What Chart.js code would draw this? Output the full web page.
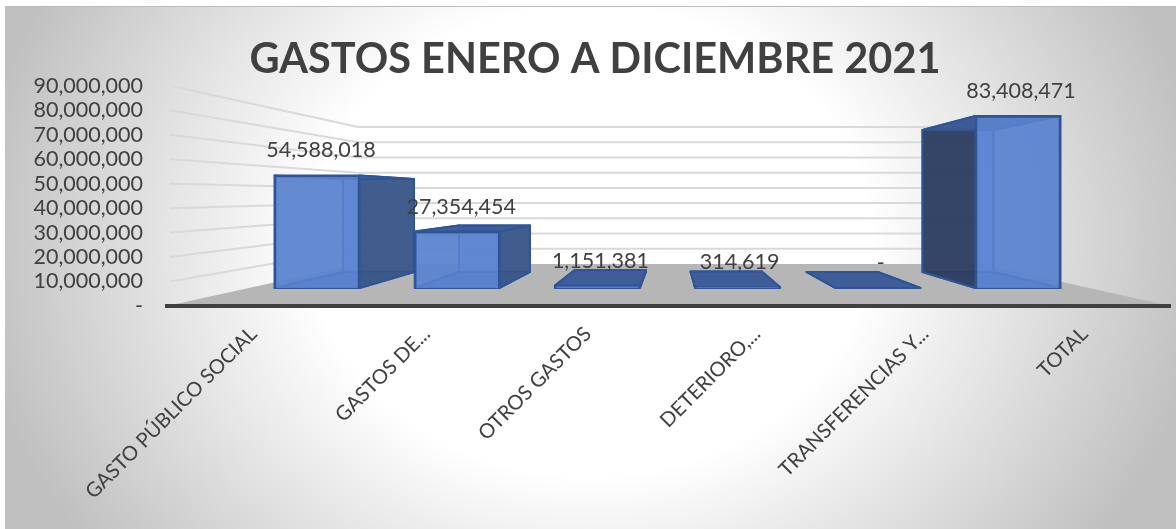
<!DOCTYPE html>
<html>
<head>
<meta charset="utf-8">
<title>Gastos enero a diciembre 2021</title>
<script src="https://cdn.jsdelivr.net/npm/chart.js@4"></script>
<style>
  html, body { margin: 0; padding: 0; background: #fff; }
  #wrap { position: relative; width: 1176px; height: 529px; overflow: hidden; }
  #bg {
    position: absolute; left: 5px; top: 6px; right: 0; bottom: 0;
    border-top: 1px solid #bbb;
    background: radial-gradient(ellipse 620px 520px at 585px 234px, #fff 0%, #fff 45%, #c0c0c0 100%);
  }
  canvas { position: absolute; left: 0; top: 0; }
</style>
</head>
<body>
<div id="wrap">
  <div id="bg"></div>
  <canvas id="chart" width="1176" height="529"></canvas>
</div>
<script>
const categories = ['GASTO PÚBLICO SOCIAL', 'GASTOS DE...', 'OTROS GASTOS', 'DETERIORO,...', 'TRANSFERENCIAS Y...', 'TOTAL'];
const gastos = [54588018, 27354454, 1151381, 314619, 0, 83408471];
const yTicks = [0, 10000000, 20000000, 30000000, 40000000, 50000000, 60000000, 70000000, 80000000, 90000000];

const textColor = '#404040';
const fmt = (v) => (v === 0 ? '-' : v.toLocaleString('en-US'));

// label nudges, the source chart does not center them exactly
const labelDx = [4, 4, 3, 2, 3, 3];
const tickDx = [3, 9, 3, 5, 6, -2];

// Draws the fake 3D: floor, walls and the back/side faces of each bar
const depthPlugin = {
  id: 'depth',
  beforeDatasetsDraw(chart) {
    const { ctx, scales, chartArea } = chart;
    const wl = scales.xWall.getPixelForValue(0);
    const wr = scales.xWall.getPixelForValue(1);
    const wy = scales.yWall.getPixelForValue(0);

    // floor
    ctx.save();
    ctx.fillStyle = '#b6b6b6';
    ctx.beginPath();
    ctx.moveTo(chartArea.left, chartArea.bottom);
    ctx.lineTo(wl, wy);
    ctx.lineTo(wr, wy);
    ctx.lineTo(chartArea.right, chartArea.bottom);
    ctx.closePath();
    ctx.fill();

    // gridlines on the left wall and the back wall
    ctx.strokeStyle = '#d9d9d9';
    ctx.lineWidth = 2;
    yTicks.forEach((t) => {
      if (t === 0) return;
      ctx.beginPath();
      ctx.moveTo(chartArea.left + 3, scales.y.getPixelForValue(t));
      ctx.lineTo(wl, scales.yWall.getPixelForValue(t));
      ctx.lineTo(wr, scales.yWall.getPixelForValue(t));
      ctx.stroke();
    });

    // bar faces behind the front one
    const bars = chart.getDatasetMeta(0).data;
    const backW = 71;
    const hiddenFace = 'rgba(85,122,195,0.6)';
    bars.forEach((bar, i) => {
      const fl = bar.x - bar.width / 2;
      const fr = bar.x + bar.width / 2;
      const ft = bar.y;
      const fb = bar.base;
      const cx = scales.xBack.getPixelForValue(i);
      const bl = cx - backW / 2;
      const br = cx + backW / 2;
      const bt = scales.yBack.getPixelForValue(gastos[i]);
      const bb = scales.yBack.getPixelForValue(0);

      const face = (pts, color) => {
        ctx.beginPath();
        pts.forEach((p, k) => (k ? ctx.lineTo(p[0], p[1]) : ctx.moveTo(p[0], p[1])));
        ctx.closePath();
        ctx.fillStyle = color;
        ctx.fill();
        ctx.stroke();
      };

      ctx.strokeStyle = '#2f5597';
      ctx.lineWidth = 2;
      ctx.lineJoin = 'round';
      face([[bl, bt], [br, bt], [br, bb], [bl, bb]], 'rgba(85,122,195,0.75)');
      face([[fl, fb], [fr, fb], [br, bb], [bl, bb]], 'rgba(70,105,175,0.85)');
      // only the side that sticks out past the front face gets the dark fill
      face([[fl, ft], [bl, bt], [bl, bb], [fl, fb]], bl < fl ? 'rgba(46,60,92,0.9)' : hiddenFace);
      face([[fr, ft], [br, bt], [br, bb], [fr, fb]], br > fr ? 'rgba(58,86,134,0.9)' : hiddenFace);
      face([[fl, ft], [fr, ft], [br, bt], [bl, bt]], 'rgba(62,92,152,0.95)');
    });
    ctx.restore();
  },
  afterDatasetsDraw(chart) {
    const { ctx } = chart;
    const bars = chart.getDatasetMeta(0).data;
    ctx.save();
    ctx.font = '21.5px Lato';
    ctx.fillStyle = textColor;
    ctx.textAlign = 'center';
    ctx.textBaseline = 'middle';
    bars.forEach((bar, i) => {
      ctx.fillText(fmt(gastos[i]), bar.x + labelDx[i], bar.y - 25);
    });
    ctx.restore();
  },
};

new Chart(document.getElementById('chart'), {
  type: 'bar',
  data: {
    labels: categories,
    datasets: [{
      data: categories.map((c, i) => ({ x: i, y: gastos[i] })),
      xAxisID: 'xBar',
      yAxisID: 'yBar',
      backgroundColor: 'rgba(92,133,209,0.85)',
      borderColor: '#2f5597',
      borderWidth: 2,
      barThickness: 85,
    }],
  },
  plugins: [depthPlugin],
  options: {
    responsive: false,
    animation: false,
    layout: { padding: { left: 20, right: 6, top: 0, bottom: 0 } },
    plugins: {
      legend: { display: false },
      tooltip: { enabled: false },
      title: {
        display: true,
        text: 'GASTOS ENERO A DICIEMBRE 2021',
        color: textColor,
        font: { family: 'Lato', size: 41.5, weight: 'bold', lineHeight: 1.2 },
        padding: { top: 35, bottom: 1 },
      },
    },
    scales: {
      // visible axes, front edge of the floor
      x: {
        type: 'category',
        offset: true,
        position: 'bottom',
        grid: { display: false, drawTicks: false },
        border: { display: true, color: textColor, width: 4, z: 1 },
        ticks: {
          color: textColor,
          font: { family: 'Lato', size: 20.2 },
          minRotation: 45,
          maxRotation: 45,
          autoSkip: false,
          padding: 16,
        },
        afterFit: (s) => {
          s.height = 223;
          s.getPixelForTick = (i) => s.getPixelForValue(s.ticks[i].value) + tickDx[i];
        },
      },
      y: {
        position: 'left',
        min: 0,
        max: 90000000,
        grid: { display: false, drawTicks: false },
        border: { display: false },
        ticks: {
          stepSize: 10000000,
          autoSkip: false,
          color: textColor,
          font: { family: 'Lato', size: 21.5 },
          padding: 24,
          callback: (v) => fmt(v),
        },
        afterFit: (s) => { s.width = 147; },
      },
      // hidden scales: one pair per depth plane of the perspective
      xBar: { type: 'linear', display: false, offset: false, bounds: 'data', min: -1.07, max: 6.084, grid: { display: false } },
      yBar: { type: 'linear', display: false, position: 'left', bounds: 'data', min: -8740000, max: 98060000, grid: { display: false } },
      xBack: { type: 'linear', display: false, offset: false, bounds: 'data', min: -1.825, max: 6.829 },
      yBack: { type: 'linear', display: false, position: 'left', bounds: 'data', min: -20000000, max: 109410000 },
      xWall: { type: 'linear', display: false, offset: false, bounds: 'data', min: -0.3066, max: 1.3034 },
      yWall: { type: 'linear', display: false, position: 'left', bounds: 'data', min: -27630000, max: 117100000 },
    },
  },
});
</script>
</body>
</html>
